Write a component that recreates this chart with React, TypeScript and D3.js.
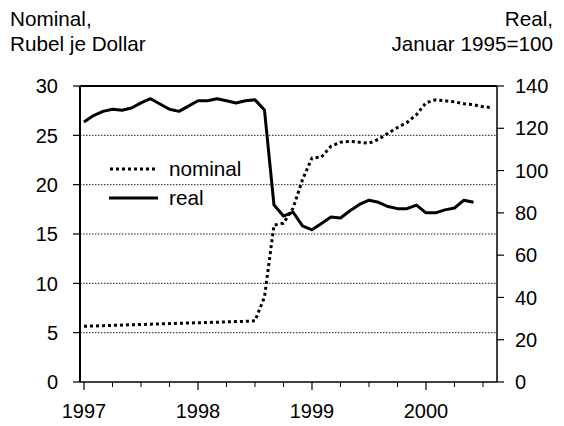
import React from "react";
import * as d3 from "d3";

const startYear = 1997;
const nominal: number[] = [
  5.65, 5.68, 5.71, 5.74, 5.77, 5.8, 5.83, 5.86, 5.89, 5.92, 5.95, 5.98,
  6.0, 6.03, 6.06, 6.09, 6.12, 6.15, 6.2, 8.6, 15.9, 16.1, 17.6, 20.5,
  22.7, 22.8, 23.9, 24.3, 24.4, 24.3, 24.2, 24.6, 25.2, 25.8, 26.3, 27.1,
  28.3, 28.6, 28.5, 28.4, 28.2, 28.1, 27.9, 27.8,
];
const real: number[] = [
  123, 126, 128, 129, 128.5, 129.6, 132, 134, 131.5, 129, 128, 130.5,
  133, 133, 134, 133, 132, 133, 133.5, 128.6, 83.7, 78.5, 80.4, 73.8,
  72, 75, 78, 77.6, 81, 84, 86, 85, 83, 82, 82, 83.7,
  80, 80, 81.4, 82.3, 86, 85,
];
const leftTicks = [0, 5, 10, 15, 20, 25, 30];
const gridValues = [5, 10, 15, 20, 25];
const rightTicks = [0, 20, 40, 60, 80, 100, 120, 140];
const yearTicks = [1997, 1998, 1999, 2000];
const quarterTicks = [
  1997.25, 1997.5, 1997.75, 1998.25, 1998.5, 1998.75,
  1999.25, 1999.5, 1999.75, 2000.25, 2000.5,
];

const FONT = "'Liberation Sans', Arial, Helvetica, sans-serif";

export default function App() {
  const W = 564, H = 426;
  const L = 80, R = 497, T = 86, B = 382;
  const x = d3.scaleLinear().domain([1996.965, 2000.623]).range([L, R]);
  const yL = d3.scaleLinear().domain([0, 30]).range([B, T]);
  const yR = d3.scaleLinear().domain([0, 140]).range([B, T]);
  const t = (i: number) => startYear + i / 12;

  const nomLine = d3.line<number>().x((_, i) => x(t(i))).y((d) => yL(d))(nominal) || "";
  const realLine = d3.line<number>().x((_, i) => x(t(i))).y((d) => yR(d))(real) || "";

  const fs = 20;
  const fsT = 20.7;
  return (
    <svg width={W} height={H} style={{ position: "absolute", left: 0, top: 0, background: "#fff" }} fontFamily={FONT}>
      <rect x={0} y={0} width={W} height={H} fill="#fff" />
      <text x={10} y={26} fontSize={fsT}>Nominal,</text>
      <text x={10} y={51} fontSize={fsT}>Rubel je Dollar</text>
      <text x={553} y={26} fontSize={fsT} textAnchor="end">Real,</text>
      <text x={553} y={51} fontSize={fsT} textAnchor="end">Januar 1995=100</text>

      {gridValues.map((v) => (
        <line key={"g" + v} x1={L} x2={R} y1={yL(v)} y2={yL(v)} stroke="#222" strokeWidth={1} strokeDasharray="1.5,1.5" />
      ))}

      {/* frame */}
      <line x1={L} x2={R} y1={T} y2={T} stroke="#000" strokeWidth={2} />
      <line x1={L} x2={R} y1={B} y2={B} stroke="#000" strokeWidth={1.5} />
      <line x1={L} x2={L} y1={T} y2={B} stroke="#000" strokeWidth={2} />
      <line x1={R} x2={R} y1={T} y2={B} stroke="#000" strokeWidth={1.5} />

      {leftTicks.map((v) => (
        <g key={"l" + v}>
          <line x1={L - 7} x2={L} y1={yL(v)} y2={yL(v)} stroke="#000" strokeWidth={1.2} />
          <text x={58} y={yL(v)} dy="0.36em" fontSize={fs} textAnchor="end">{v}</text>
        </g>
      ))}
      {rightTicks.map((v) => (
        <g key={"r" + v}>
          <line x1={R} x2={R + 7} y1={yR(v)} y2={yR(v)} stroke="#000" strokeWidth={1.2} />
          <text x={515} y={yR(v)} dy="0.36em" fontSize={fs} textAnchor="start">{v}</text>
        </g>
      ))}
      {yearTicks.map((v) => (
        <g key={"y" + v}>
          <line x1={x(v)} x2={x(v)} y1={B} y2={B + 8} stroke="#000" strokeWidth={1.2} />
          <text x={x(v)} y={418} fontSize={fs} textAnchor="middle">{v}</text>
        </g>
      ))}
      {quarterTicks.map((v) => (
        <line key={"q" + v} x1={x(v)} x2={x(v)} y1={B} y2={B + 5} stroke="#000" strokeWidth={1} />
      ))}

      <path d={nomLine} fill="none" stroke="#000" strokeWidth={3} strokeDasharray="3,3" />
      <path d={realLine} fill="none" stroke="#000" strokeWidth={3} strokeLinejoin="round" />

      {/* legend */}
      <line x1={110} x2={158} y1={169} y2={169} stroke="#000" strokeWidth={3} strokeDasharray="3,3" />
      <text x={169} y={176} fontSize={fsT}>nominal</text>
      <line x1={109} x2={158} y1={198} y2={198} stroke="#000" strokeWidth={3} />
      <text x={169} y={205} fontSize={fsT}>real</text>
    </svg>
  );
}
